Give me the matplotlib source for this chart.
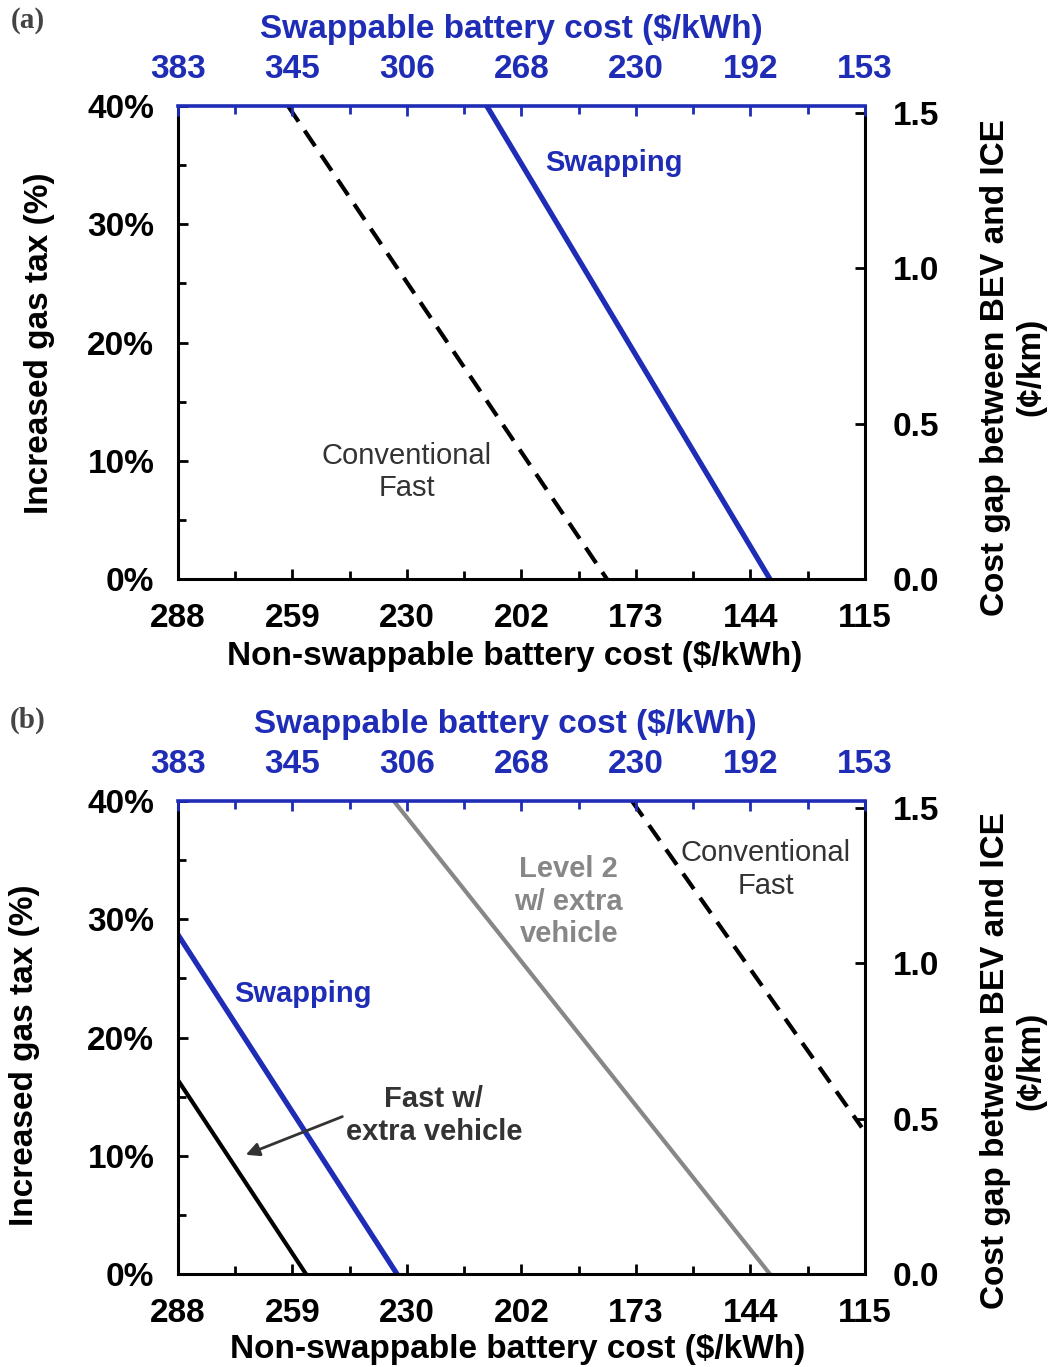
import matplotlib
matplotlib.use("Agg")
import matplotlib.pyplot as plt
from matplotlib.ticker import FixedLocator

plt.rcParams['font.family'] = ['Liberation Sans', 'DejaVu Sans']
plt.rcParams['font.weight'] = 'bold'
plt.rcParams['axes.labelweight'] = 'bold'

BLUE = '#1f2cb5'
GRAY = '#878787'
DARK = '#333333'

# axis scales: both costs run from 100% down to 40% of base
nonswap_base = 288
swap_base = 383
fractions = [1.0, 0.9, 0.8, 0.7, 0.6, 0.5, 0.4]
bottom_labels = ['288', '259', '230', '202', '173', '144', '115']
top_labels = ['383', '345', '306', '268', '230', '192', '153']
tax_ticks = [0, 10, 20, 30, 40]
tax_labels = ['0%', '10%', '20%', '30%', '40%']
gap_ticks = [0.0, 0.5, 1.0, 1.5]
gap_labels = ['0.0', '0.5', '1.0', '1.5']

# panel (a): non-swappable cost ($/kWh) vs increased gas tax (%)
conv_a_cost = [260.3, 180.1]
conv_a_tax = [40, 0]
swap_a_cost = [210.3, 139.1]
swap_a_tax = [40, 0]

# panel (b)
fastx_b_cost = [288, 255.8]
fastx_b_tax = [16.4, 0]
swap_b_cost = [288, 232.9]
swap_b_tax = [28.7, 0]
lvl2_b_cost = [233.7, 139.1]
lvl2_b_tax = [40, 0]
conv_b_cost = [173.8, 116.0]
conv_b_tax = [40, 12.4]

FS = 24        # ticks and axis titles
NFS = 21       # in-plot notes
dash = (4.5, 2.6)


def setupPanel(rect, labelPos):
    ax = fig.add_axes(rect)
    axr = ax.twinx()
    axt = ax.twiny()

    ax.set_xlim(nonswap_base, nonswap_base * fractions[-1])
    ax.set_ylim(0, 40)
    axt.set_xlim(swap_base, swap_base * fractions[-1])
    axr.set_ylim(0, 1.522)

    for a in (ax, axr, axt):
        for s in a.spines.values():
            s.set_visible(False)
            s.set_linewidth(2.2)
    ax.spines['left'].set_visible(True)
    ax.spines['bottom'].set_visible(True)
    axr.spines['right'].set_visible(True)
    axt.spines['top'].set_visible(True)
    axt.spines['top'].set_color(BLUE)
    axt.spines['top'].set_linewidth(2.6)

    mids = [f - 0.05 for f in fractions[:-1]]
    ax.set_xticks([nonswap_base * f for f in fractions])
    ax.set_xticklabels(bottom_labels)
    ax.xaxis.set_minor_locator(FixedLocator([nonswap_base * m for m in mids]))
    ax.set_yticks(tax_ticks)
    ax.set_yticklabels(tax_labels)
    ax.yaxis.set_minor_locator(FixedLocator([5, 15, 25, 35]))
    ax.tick_params(which='both', direction='in', top=False, right=False, width=2, labelsize=FS)
    ax.tick_params(which='major', length=7, pad=17.5)
    ax.tick_params(axis='y', which='major', pad=17)
    ax.tick_params(which='minor', length=6)

    axt.set_xticks([swap_base * f for f in fractions])
    axt.set_xticklabels(top_labels)
    axt.xaxis.set_minor_locator(FixedLocator([swap_base * m for m in mids]))
    axt.tick_params(which='both', direction='in', bottom=False, color=BLUE, labelcolor=BLUE, width=2, labelsize=FS)
    axt.tick_params(which='major', length=7, pad=15.5)
    axt.tick_params(which='minor', length=6)

    axr.set_yticks(gap_ticks)
    axr.set_yticklabels(gap_labels)
    axr.tick_params(direction='in', left=False, length=7, width=2, pad=20, labelsize=FS)

    bx, by, tx, ty, lx, ly, rx, ry = labelPos
    ax.set_xlabel('Non-swappable battery cost ($/kWh)', fontsize=FS)
    ax.xaxis.set_label_coords(bx, by)
    ax.xaxis.label.set_va('center')
    axt.set_xlabel('Swappable battery cost ($/kWh)', fontsize=FS, color=BLUE)
    axt.xaxis.set_label_coords(tx, ty)
    axt.xaxis.label.set_va('center')
    ax.set_ylabel('Increased gas tax (%)', fontsize=FS)
    ax.yaxis.set_label_coords(lx, ly)
    ax.yaxis.label.set_va('center')
    ax.text(rx, ry, 'Cost gap between BEV and ICE\n(\u00a2/km)', transform=ax.transAxes,
            rotation=90, ha='center', va='center', multialignment='center',
            fontsize=FS, linespacing=1.2)
    return ax


fig = plt.figure(figsize=(10.53, 13.67), dpi=100)

# (a)
axA = setupPanel([0.169, 0.5764, 0.6524, 0.3460],
                 (0.4905, -0.1628, 0.485, 1.1628, -0.2009, 0.499, 1.2154, 0.448))
axA.plot(conv_a_cost, conv_a_tax, color='black', lw=3, dashes=dash)
axA.plot(swap_a_cost, swap_a_tax, color=BLUE, lw=3.8)
axA.text(178.3, 35.2, 'Swapping', color=BLUE, fontsize=NFS, ha='center', va='center')
axA.text(230.4, 9.05, 'Conventional\nFast', color=DARK, fontsize=NFS, fontweight='normal',
         ha='center', va='center')

# (b)
axB = setupPanel([0.169, 0.0680, 0.6524, 0.3460],
                 (0.495, -0.1586, 0.477, 1.1628, -0.2227, 0.463, 1.2154, 0.4503))
axB.plot(fastx_b_cost, fastx_b_tax, color='black', lw=3)
axB.plot(swap_b_cost, swap_b_tax, color=BLUE, lw=3.8)
axB.plot(lvl2_b_cost, lvl2_b_tax, color=GRAY, lw=3)
axB.plot(conv_b_cost, conv_b_tax, color='black', lw=3, dashes=dash)
axB.text(256.6, 23.7, 'Swapping', color=BLUE, fontsize=NFS, ha='center', va='center')
axB.text(189.7, 31.5, 'Level 2\nw/ extra\nvehicle', color=GRAY, fontsize=NFS, ha='center', va='center')
axB.text(140.1, 34.2, 'Conventional\nFast', color=DARK, fontsize=NFS, fontweight='normal',
         ha='center', va='center')
axB.text(223.6, 13.4, 'Fast w/\nextra vehicle', color=DARK, fontsize=NFS, ha='center', va='center')
axB.annotate('', xy=(271.6, 10.0), xytext=(246, 13.4),
             arrowprops=dict(arrowstyle='-|>', color=DARK, lw=2, mutation_scale=20))

fig.text(28 / 1053, 1 - 20 / 1367, '(a)', family='Liberation Serif', fontsize=21,
         color='#444444', ha='center', va='center')
fig.text(28 / 1053, 1 - 720 / 1367, '(b)', family='Liberation Serif', fontsize=21,
         color='#444444', ha='center', va='center')

fig.savefig('out.png', dpi=100)
